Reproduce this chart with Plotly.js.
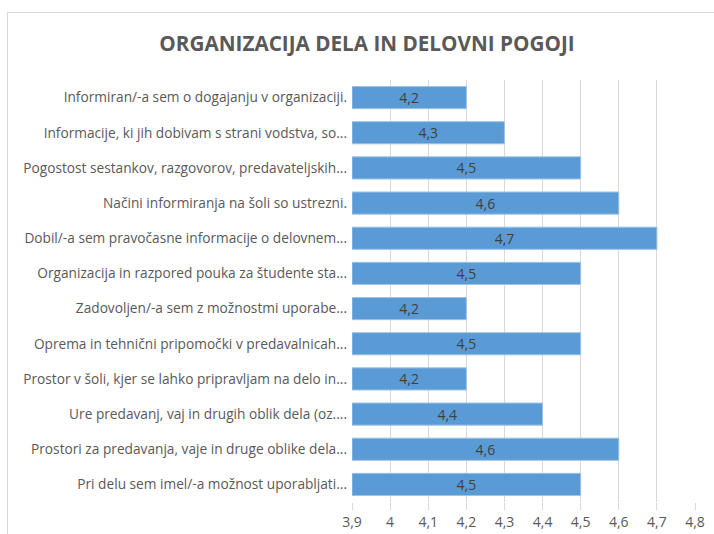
<!DOCTYPE html>
<html>
<head>
<meta charset="utf-8">
<script src="https://cdn.plot.ly/plotly-3.0.1.min.js"></script>
<style>
  body { margin: 0; background: #fff; }
  #chart { width: 714px; height: 534px; }
  #frame { position: absolute; left: 7px; top: 12px; width: 720px; height: 540px;
           border: 1px solid #d9d9d9; pointer-events: none; }
</style>
</head>
<body>
<div id="chart"></div>
<div id="frame"></div>
<script>
// Survey items, top to bottom as shown
const items = [
    'Informiran/-a sem o dogajanju v organizaciji.',
    'Informacije, ki jih dobivam s strani vodstva, so...',
    'Pogostost sestankov, razgovorov, predavateljskih...',
    'Načini informiranja na šoli so ustrezni.',
    'Dobil/-a sem pravočasne informacije o delovnem...',
    'Organizacija in razpored pouka za študente sta...',
    'Zadovoljen/-a sem z možnostmi uporabe...',
    'Oprema in tehnični pripomočki v predavalnicah...',
    'Prostor v šoli, kjer se lahko pripravljam na delo in...',
    'Ure predavanj, vaj in drugih oblik dela (oz....',
    'Prostori za predavanja, vaje in druge oblike dela...',
    'Pri delu sem imel/-a možnost uporabljati...'
];
const scores = [4.2, 4.3, 4.5, 4.6, 4.7, 4.5, 4.2, 4.5, 4.2, 4.4, 4.6, 4.5];
const axisMin = 3.9;

// bars start at the axis minimum so the labels sit in the visible part
const trace = {
    type: 'bar',
    orientation: 'h',
    y: items,
    base: axisMin,
    x: scores.map(v => v - axisMin),
    customdata: scores,
    marker: { color: '#5b9bd5', line: { color: '#9dc3e6', width: 1 } },
    texttemplate: '%{customdata:.1f}',
    textposition: 'inside',
    insidetextanchor: 'middle',
    constraintext: 'none',
    textangle: 0,
    textfont: { family: 'Open Sans', size: 14, color: '#404040' },
    hoverinfo: 'none'
};

const layout = {
    width: 714,
    height: 534,
    separators: ', ',
    margin: { l: 352, r: 19, t: 80, b: 32 },
    paper_bgcolor: '#fff',
    plot_bgcolor: '#fff',
    bargap: 0.37,
    showlegend: false,
    title: {
        text: '<b>ORGANIZACIJA DELA IN DELOVNI POGOJI</b>',
        font: { family: 'Open Sans', size: 20.7, color: '#595959' },
        x: 0.514, xref: 'container', xanchor: 'center',
        y: 0.918, yref: 'container', yanchor: 'middle'
    },
    font: { family: 'Open Sans', size: 12, color: '#595959' },
    xaxis: {
        range: [axisMin, 4.8],
        tick0: axisMin,
        dtick: 0.1,
        showgrid: true,
        gridcolor: '#d9d9d9',
        zeroline: false,
        ticks: 'outside',
        ticklen: 7,
        tickcolor: '#d9d9d9',
        tickfont: { family: 'Open Sans', size: 14, color: '#595959' },
        fixedrange: true
    },
    yaxis: {
        autorange: 'reversed',
        showgrid: false,
        zeroline: false,
        ticks: '',
        ticklabelstandoff: 4,
        tickfont: { family: 'Open Sans', size: 13.7, color: '#595959' },
        fixedrange: true
    }
};

Plotly.newPlot('chart', [trace], layout, { displayModeBar: false, staticPlot: true });
</script>
</body>
</html>
